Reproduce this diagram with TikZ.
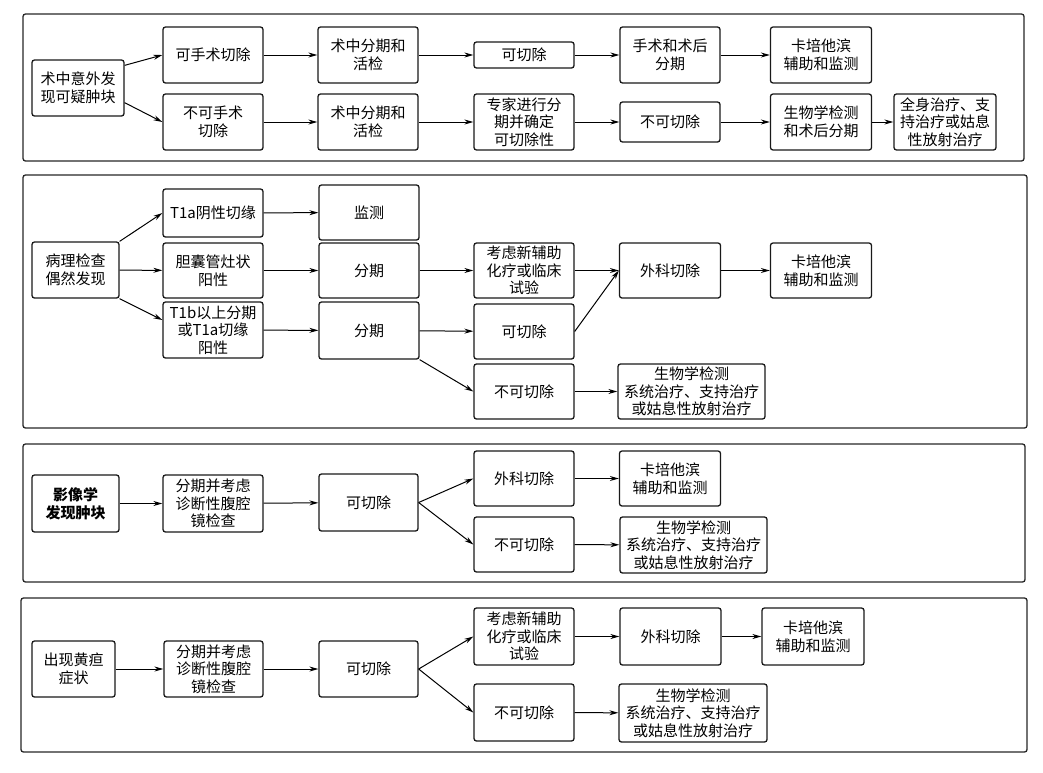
\documentclass[tikz,border=0pt]{standalone}
\usepackage{fontspec}
\newfontfamily\cjk{Noto Sans CJK SC}
\usepackage{tikz}
\usetikzlibrary{arrows.meta, positioning}
\tikzset{
  >=Stealth,
  flowarrow/.style={-{Stealth[length=9pt, width=5pt]}, line width=1pt, black},
  panel/.style={draw=black!85, line width=1.3pt, rounded corners=2.5pt}
}

\begin{document}
\begin{tikzpicture}[
    x=1pt, y=-1pt,
    box/.style={rectangle, draw=black!90, line width=1.3pt, rounded corners=2.5pt, font=\cjk\fontsize{15}{17.6}\selectfont, align=center, inner sep=1pt, minimum width=100pt, minimum height=56pt},
    widebox/.style={box, minimum width=147pt}
]
    \useasboundingbox (0,0) rectangle (1043,772);

    % Panel frames
    \draw[panel] (23,14) rectangle (1024,161);
    \draw[panel] (23,175) rectangle (1027,428);
    \draw[panel] (23,444) rectangle (1025,582);
    \draw[panel] (21,598) rectangle (1027,752);

    % Panel 1: found during surgery
    \node[box, minimum width=92pt] (p1in) at (78,88) {术中意外发\\现可疑肿块};
    \node[box] (p1ok) at (213,55) {可手术切除};
    \node[box] (p1no) at (213,122) {不可手术\\切除};
    \node[box] (p1stage) at (368,55) {术中分期和\\活检};
    \node[box] (p1stageb) at (368,122) {术中分期和\\活检};
    \node[box, minimum height=26pt] (p1res) at (524,55) {可切除};
    \node[box] (p1expert) at (524,122) {专家进行分\\期并确定\\可切除性};
    \node[box] (p1post) at (670,55) {手术和术后\\分期};
    \node[box, minimum height=40pt] (p1nores) at (670,122) {不可切除};
    \node[box, minimum width=101pt] (p1cape) at (821,55) {卡培他滨\\辅助和监测};
    \node[box, minimum width=101pt] (p1bio) at (821,122) {生物学检测\\和术后分期};
    \node[box, minimum width=102pt] (p1sys) at (945,122) {全身治疗、支\\持治疗或姑息\\性放射治疗};

    \draw[flowarrow] ([yshift=-6pt]p1in.north east) -- (p1ok.west);
    \draw[flowarrow] ([yshift=14pt]p1in.south east) -- (p1no.west);
    \draw[flowarrow] (p1ok) -- (p1stage);
    \draw[flowarrow] (p1stage) -- (p1res);
    \draw[flowarrow] (p1res) -- (p1post);
    \draw[flowarrow] (p1post) -- (p1cape);
    \draw[flowarrow] (p1no) -- (p1stageb);
    \draw[flowarrow] (p1stageb) -- (p1expert);
    \draw[flowarrow] (p1expert) -- (p1nores);
    \draw[flowarrow] (p1nores) -- (p1bio);
    \draw[flowarrow] (p1bio) -- (p1sys);

    % Panel 2: found on pathology
    \node[box, minimum width=87pt] (p2in) at (75.5,270) {病理检查\\偶然发现};
    \node[box, minimum height=48pt] (p2neg) at (213,213) {T1a阴性切缘};
    \node[box, minimum height=55pt] (p2duct) at (213,270.5) {胆囊管灶状\\阳性};
    \node[box] (p2pos) at (213,330) {T1b以上分期\\或T1a切缘\\阳性};
    \node[box, minimum height=55pt] (p2watch) at (369,212.5) {监测};
    \node[box, minimum height=55pt] (p2stage) at (369,270.5) {分期};
    \node[box, minimum height=57pt] (p2stageb) at (369,330.5) {分期};
    \node[box, minimum height=55pt] (p2neo) at (524,270.5) {考虑新辅助\\化疗或临床\\试验};
    \node[box, minimum height=55pt] (p2res) at (524,331.5) {可切除};
    \node[box, minimum height=55pt] (p2nores) at (524,391.5) {不可切除};
    \node[box, minimum width=101pt, minimum height=55pt] (p2surg) at (670,270.5) {外科切除};
    \node[box, minimum width=101pt, minimum height=55pt] (p2cape) at (821,270.5) {卡培他滨\\辅助和监测};
    \node[widebox, minimum height=55pt] (p2bio) at (691.5,391.5) {生物学检测\\系统治疗、支持治疗\\或姑息性放射治疗};

    \draw[flowarrow] (p2in.north east) -- (p2neg.west);
    \draw[flowarrow] (p2in) -- (p2duct);
    \draw[flowarrow] (p2in.south east) -- ([yshift=10pt]p2pos.west);
    \draw[flowarrow] (p2neg) -- (p2watch);
    \draw[flowarrow] (p2duct) -- (p2stage);
    \draw[flowarrow] (p2pos) -- (p2stageb);
    \draw[flowarrow] (p2stage) -- (p2neo);
    \draw[flowarrow] (p2stageb) -- (p2res);
    \draw[flowarrow] (p2stageb.south east) -- (p2nores.west);
    \draw[flowarrow] (p2neo) -- (p2surg);
    \draw[flowarrow] (p2res.east) -- (p2surg.west);
    \draw[flowarrow] (p2surg) -- (p2cape);
    \draw[flowarrow] (p2nores) -- (p2bio);

    % Panel 3: found on imaging
    \node[box, minimum width=87pt, minimum height=57pt, font=\cjk\bfseries\fontsize{15}{17.6}\selectfont] (p3in) at (75.5,503.5) {影像学\\发现肿块};
    \node[box, minimum height=57pt] (p3lap) at (213,503.5) {分期并考虑\\诊断性腹腔\\镜检查};
    \node[box, minimum width=99pt, minimum height=57pt] (p3res) at (368.5,502.5) {可切除};
    \node[box, minimum height=55pt] (p3surg) at (524,478.5) {外科切除};
    \node[box, minimum height=55pt] (p3nores) at (524,544.5) {不可切除};
    \node[box, minimum width=101pt, minimum height=55pt] (p3cape) at (670,478.5) {卡培他滨\\辅助和监测};
    \node[widebox] (p3bio) at (693.5,545) {生物学检测\\系统治疗、支持治疗\\或姑息性放射治疗};

    \draw[flowarrow] (p3in) -- (p3lap);
    \draw[flowarrow] (p3lap) -- (p3res);
    \draw[flowarrow] (p3res.east) -- (p3surg.west);
    \draw[flowarrow] (p3res.east) -- (p3nores.west);
    \draw[flowarrow] (p3surg) -- (p3cape);
    \draw[flowarrow] (p3nores) -- (p3bio);

    % Panel 4: jaundice
    \node[box, minimum width=83pt] (p4in) at (73.5,669) {出现黄疸\\症状};
    \node[box, minimum width=99pt] (p4lap) at (213.5,669) {分期并考虑\\诊断性腹腔\\镜检查};
    \node[box, minimum width=99pt] (p4res) at (368.5,669) {可切除};
    \node[box, minimum height=57pt] (p4neo) at (524,636.5) {考虑新辅助\\化疗或临床\\试验};
    \node[box, minimum height=57pt] (p4nores) at (524,712.5) {不可切除};
    \node[box, minimum width=101pt, minimum height=57pt] (p4surg) at (670.5,636.5) {外科切除};
    \node[box, minimum width=102pt, minimum height=57pt] (p4cape) at (813,636.5) {卡培他滨\\辅助和监测};
    \node[widebox, minimum width=148pt, minimum height=58pt] (p4bio) at (693,713) {生物学检测\\系统治疗、支持治疗\\或姑息性放射治疗};

    \draw[flowarrow] (p4in) -- (p4lap);
    \draw[flowarrow] (p4lap) -- (p4res);
    \draw[flowarrow] (p4res.east) -- (p4neo.west);
    \draw[flowarrow] (p4res.east) -- (p4nores.west);
    \draw[flowarrow] (p4neo) -- (p4surg);
    \draw[flowarrow] (p4surg) -- (p4cape);
    \draw[flowarrow] (p4nores) -- (p4bio);
\end{tikzpicture}
\end{document}
